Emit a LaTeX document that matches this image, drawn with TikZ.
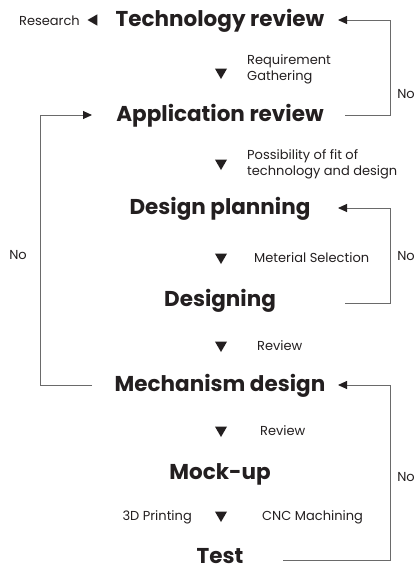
\documentclass[tikz,border=0pt]{standalone}
\usepackage{fontspec}
\setmainfont{Poppins}
\usetikzlibrary{arrows.meta,shapes.geometric}
\definecolor{ink}{HTML}{231F20}
\definecolor{wire}{HTML}{6A6A6A}
\begin{document}
\begin{tikzpicture}[x=1pt,y=-1pt,
  head/.style={font=\fontsize{21.5}{24}\selectfont\bfseries, text=ink, inner sep=0pt, text height=0.7em, text depth=0pt, yshift=-2.5pt},
  note/.style={font=\fontsize{13}{16}\selectfont, text=ink, inner sep=0pt, text height=0.7em, text depth=0pt, align=left, yshift=-2pt},
  tri/.style={regular polygon, regular polygon sides=3, fill=ink, inner sep=0pt, minimum size=14pt, shape border rotate=180},
  tril/.style={regular polygon, regular polygon sides=3, fill=ink, inner sep=0pt, minimum size=13pt, shape border rotate=90},
  loop/.style={draw=wire, line width=0.9pt},
  tip/.style={-{Triangle[length=9pt,width=8pt,color=ink]}}]
\useasboundingbox (0,0) rectangle (419,571);
% headings
\node[head] (tech) at (220,20) {Technology review};
\node[head] (app)  at (220,115) {Application review};
\node[head] (plan) at (220,208) {Design planning};
\node[head] (des)  at (220,300) {Designing};
\node[head] (mech) at (220,385) {Mechanism design};
\node[head] (mock) at (220,473) {Mock-up};
\node[head] (test) at (220,557) {Test};
% markers
\node[note, anchor=east] (res) at (80,20) {Research};
\node[tril] (tres) at (94,20) {};
\node[tri] (t1) at (221,72) {};
\node[tri] (t2) at (221,163) {};
\node[tri] (t3) at (221,257) {};
\node[tri] (t4) at (221,345) {};
\node[tri] (t5) at (221,430) {};
\node[tri] (t6) at (221,515) {};
% notes
\node[note, anchor=west, text height=, text depth=] (n1) at (247,67) {Requirement\\Gathering};
\node[note, anchor=west, text height=, text depth=] (n2) at (247,162) {Possibility of fit of\\technology and design};
\node[note, anchor=west] (n3) at (254,257) {Meterial Selection};
\node[note, anchor=west] (n4) at (257,345) {Review};
\node[note, anchor=west] (n5) at (260,430) {Review};
\node[note, anchor=east] (n6) at (192,515) {3D Printing};
\node[note, anchor=west] (n7) at (262,515) {CNC Machining};
\node[note] (no1) at (406,93) {No};
\node[note] (no2) at (18,254) {No};
\node[note] (no3) at (406,255) {No};
\node[note] (no4) at (406,476) {No};
% guide coordinates
\coordinate (rin) at (338,0);
\coordinate (rout) at (345,0);
\coordinate (rx) at (390,0);
\coordinate (lx) at (40,0);
\coordinate (lend) at (92,0);
\coordinate (tout) at (283,0);
\coordinate (y1) at (0,20);
\coordinate (y2) at (0,115);
\coordinate (y3) at (0,208);
\coordinate (y4) at (0,303);
\coordinate (y5) at (0,385);
\coordinate (y6) at (0,560);
% loops
\draw[loop] (rout |- y2) -- (rx |- y2) -- (rx |- y1);
\draw[loop, tip] (rx |- y1) -- (rin |- y1);
\draw[loop] (rout |- y4) -- (rx |- y4) -- (rx |- y3);
\draw[loop, tip] (rx |- y3) -- (rin |- y3);
\draw[loop] (tout |- y6) -- (rx |- y6) -- (rx |- y5);
\draw[loop, tip] (rx |- y5) -- (rin |- y5);
\draw[loop] (lend |- y5) -- (lx |- y5) -- (lx |- y2);
\draw[loop, tip] (lx |- y2) -- (lend |- y2);
\end{tikzpicture}
\end{document}
